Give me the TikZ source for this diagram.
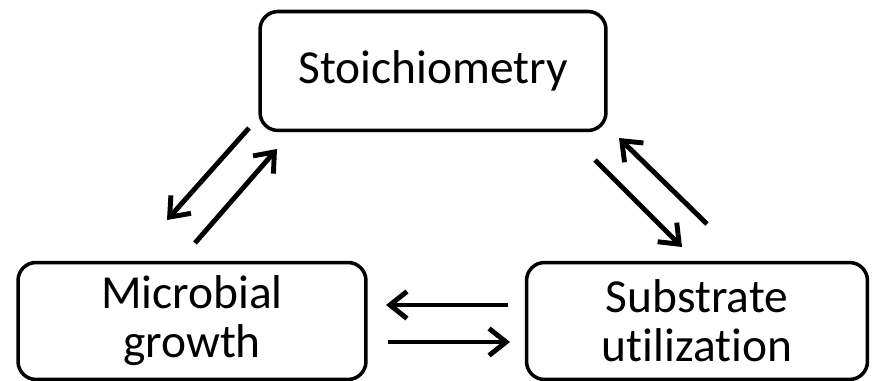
\documentclass[tikz,border=0pt]{standalone}
\usepackage{fontspec}
\setmainfont{Carlito}[Ligatures=NoCommon]
\usetikzlibrary{arrows.meta}

\tikzset{
  box/.style = {draw, line width = 2pt, rounded corners = 0.36cm, align = center,
    font = \fontsize{27}{28}\selectfont, inner sep = 0pt},
  flow/.style = {line width = 2.8pt, -{Straight Barb[length = 3.4mm, width = 5.4mm]}}
}

\begin{document}
\begin{tikzpicture}[x = 0.02cm, y = -0.02cm]
\useasboundingbox (0,0) rectangle (872,381);
\node [box, minimum width = 6.92cm, minimum height = 2.38cm] (stoich) at (433,71) {Stoichiometry};
\node [box, minimum width = 6.96cm, minimum height = 2.34cm] (growth) at (192,321) {Microbial\\growth};
\node [box, minimum width = 6.82cm, minimum height = 2.34cm] (subst) at (697,321) {Substrate\\utilization};
% arrow ends
\coordinate (sg1) at (249,128);
\coordinate (sg2) at (167,220);
\coordinate (gs1) at (195,243);
\coordinate (gs2) at (277,149);
\coordinate (ss1) at (595,160);
\coordinate (ss2) at (682,247);
\coordinate (us1) at (707,224);
\coordinate (us2) at (619,138);
\coordinate (ug1) at (508,305);
\coordinate (ug2) at (386,305);
\coordinate (gu1) at (388,342);
\coordinate (gu2) at (510,342);
\draw [flow] (sg1) -- (sg2);
\draw [flow] (gs1) -- (gs2);
\draw [flow] (ss1) -- (ss2);
\draw [flow] (us1) -- (us2);
\draw [flow] (ug1) -- (ug2);
\draw [flow] (gu1) -- (gu2);
\end{tikzpicture}
\end{document}
